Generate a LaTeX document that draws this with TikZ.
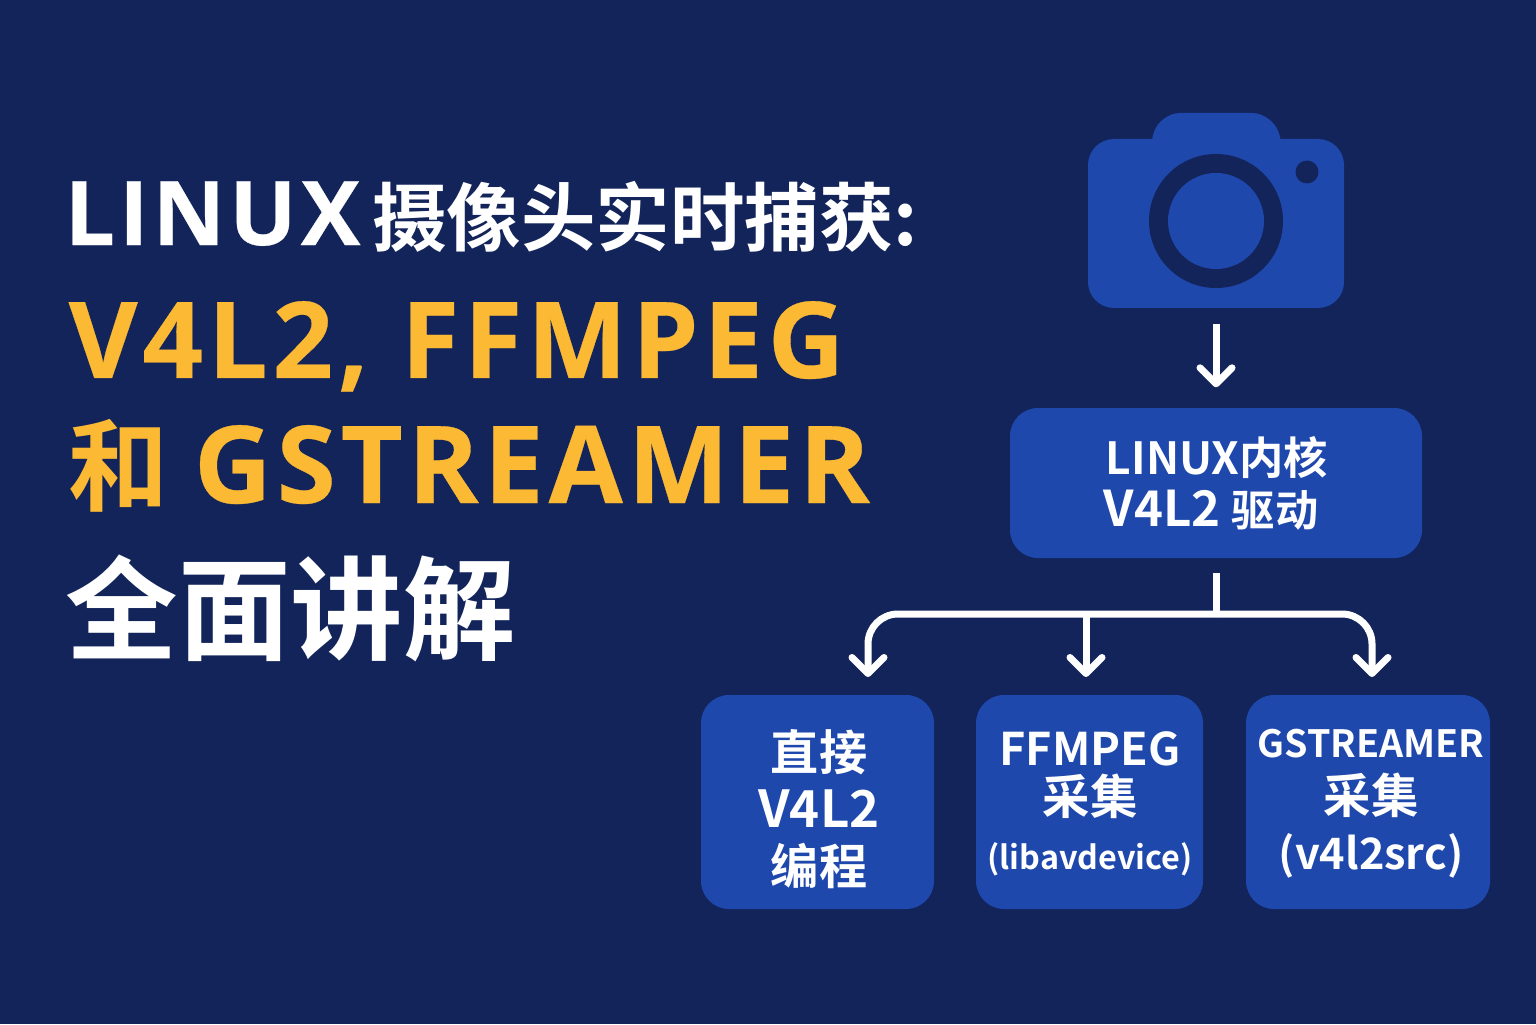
\documentclass[tikz,border=0pt]{standalone}
\usepackage{fontspec}
\setmainfont{Noto Sans CJK SC}[BoldFont=* Bold]
\newfontfamily\latinbold{Open Sans}[BoldFont=* Bold, BoldFeatures={LetterSpace=4.5, FakeBold=0.3}]
\newcommand{\fs}[1]{\fontsize{#1}{#1}\selectfont}
\usetikzlibrary{arrows.meta}
\definecolor{bgnavy}{HTML}{12245A}
\definecolor{boxblue}{HTML}{1F48AC}
\definecolor{titleyellow}{HTML}{FBB934}
\tikzset{
  boxnode/.style={fill=boxblue, rounded corners=0.28cm, inner sep=0pt},
  boxtext/.style={text=white, align=center, inner sep=0pt, font=\bfseries\fontsize{10}{#1}\selectfont},
  titlenode/.style={anchor=base west, inner sep=0pt, font=\bfseries},
  plainline/.style={draw=white, line width=0.07cm},
  flowline/.style={plainline, -{Straight Barb[length=0.16cm,width=0.32cm,line width=0.07cm,round]}},
}
\begin{document}
\begin{tikzpicture}
  \fill[bgnavy] (0,0) rectangle (15.36,10.24);
  \useasboundingbox (0,0) rectangle (15.36,10.24);
  % title
  \node[titlenode, text=white] (titleone) at (0.64,7.79) {{\latinbold\bfseries\fs{25.4}LINUX}\hspace{0.12cm}\fs{21.2}摄像头实时捕获:};
  \node[titlenode, text=titleyellow] (titletwo) at (0.68,6.46) {\latinbold\bfseries\fs{30.2}V4L2, FFMPEG};
  \node[titlenode, text=titleyellow] (titlethree) at (0.68,5.21) {\fs{28.5}和\hspace{0.25cm}{\latinbold\bfseries\fs{30.6}GSTREAMER}};
  \node[titlenode, text=white] (titlefour) at (0.65,3.73) {\fs{32}全面讲解};
  % camera
  \fill[boxblue, rounded corners=0.26cm] (10.88,7.16) rectangle (13.44,8.85);
  \fill[boxblue, rounded corners=0.2cm] (11.47,8.7) -- (11.6,9.11) -- (12.72,9.11) -- (12.86,8.7) -- cycle;
  \fill[bgnavy] (12.16,8.03) circle (0.67);
  \fill[boxblue] (12.16,8.03) circle (0.48);
  \fill[bgnavy] (13.07,8.52) circle (0.115);
  \node[minimum width=2.56cm, minimum height=1.69cm, inner sep=0pt] (camera) at (12.16,8.005) {};
  % boxes
  \node[boxnode, minimum width=4.12cm, minimum height=1.5cm] (kernel) at (12.16,5.41) {};
  \node[boxnode, minimum width=2.33cm, minimum height=2.14cm] (direct) at (8.175,2.22) {};
  \node[boxnode, minimum width=2.27cm, minimum height=2.14cm] (ffmpeg) at (10.895,2.22) {};
  \node[boxnode, minimum width=2.44cm, minimum height=2.14cm] (gst) at (13.68,2.22) {};
  % box texts
  \node[boxtext=15pt] (kerneltext) at (12.17,5.405) {\fs{12.6}LINUX内核\\\fs{14}V4L2 \fs{12.3}驱动\hspace*{0.12cm}};
  \node[boxtext=16.2pt] (directtext) at (8.19,2.15) {\fs{13.7}直接\\\fs{14.5}V4L2\\\fs{13.7}编程};
  \node[boxtext=15.8pt] (ffmpegtext) at (10.9,2.2) {\fs{12.8}FFMPEG\\[-2pt]\fs{13.5}采集\\\fs{9.2}(libavdevice)};
  \node[boxtext=15.9pt] (gsttext) at (13.71,2.2) {\fs{10.7}GSTREAMER\\\fs{13.5}采集\hspace*{0.12cm}\\\fs{12.3}(v4l2src)};
  % connectors
  \coordinate (split) at (12.16,4.10);
  \coordinate (arrowdirect) at (8.68,3.47);
  \coordinate (arrowffmpeg) at (10.86,3.47);
  \coordinate (arrowgst) at (13.72,3.47);
  \draw[flowline, shorten <=0.15cm, shorten >=0.2cm] (camera) -- (kernel);
  \draw[plainline, shorten <=0.14cm] (kernel.south) -- (split);
  \draw[flowline, rounded corners=0.3cm] (split) -| (arrowdirect);
  \draw[flowline, rounded corners=0.3cm] (split) -| (arrowgst);
  \draw[flowline] (arrowffmpeg |- split) -- (arrowffmpeg);
\end{tikzpicture}
\end{document}
